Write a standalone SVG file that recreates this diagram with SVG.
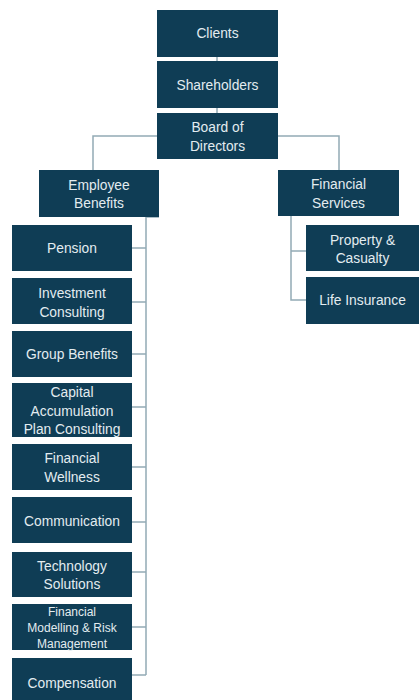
<svg xmlns="http://www.w3.org/2000/svg" width="419" height="700" viewBox="0 0 419 700">
<style>
.n rect{fill:#0f3d55}
.n text{fill:#e3ecf0;font-family:"Liberation Sans",Arial,sans-serif;font-size:13.8px;text-anchor:middle}
.n text.s{font-size:12px}
#connectors path{fill:none;stroke:#93aab5;stroke-width:1.5}
</style>
<rect width="419" height="700" fill="#ffffff"/>
<g id="connectors">
<path d="M217,57V61M217,108V113"/>
<path d="M157,136H93V170M278,136H339V170"/>
<path d="M159,217H146V675M132,248H146M132,302H146M132,354H146M132,407H146M132,467H146M132,522H146M132,572H146M132,627H146M132,675H146"/>
<path d="M291,216V300H306M291,251H306"/>
</g>
<g id="clients" class="n"><rect x="157" y="10" width="121" height="47"/><text x="217.5" y="38">Clients</text></g>
<g id="shareholders" class="n"><rect x="157" y="61" width="121" height="47"/><text x="217.5" y="90">Shareholders</text></g>
<g id="board" class="n"><rect x="157" y="113" width="121" height="46"/><text x="217.5" y="132">Board of</text><text x="217.5" y="151">Directors</text></g>
<g id="employee-benefits" class="n"><rect x="39" y="170" width="120" height="47"/><text x="99" y="190">Employee</text><text x="99" y="208">Benefits</text></g>
<g id="financial-services" class="n"><rect x="278" y="170" width="121" height="46"/><text x="338.5" y="189">Financial</text><text x="338.5" y="208">Services</text></g>
<g id="property-casualty" class="n"><rect x="306" y="225" width="113" height="46"/><text x="362.5" y="245">Property &amp;</text><text x="362.5" y="263">Casualty</text></g>
<g id="life-insurance" class="n"><rect x="306" y="277" width="113" height="47"/><text x="362.5" y="305">Life Insurance</text></g>
<g id="pension" class="n"><rect x="12" y="225" width="120" height="46"/><text x="72" y="253">Pension</text></g>
<g id="investment-consulting" class="n"><rect x="12" y="278" width="120" height="46"/><text x="72" y="298">Investment</text><text x="72" y="317">Consulting</text></g>
<g id="group-benefits" class="n"><rect x="12" y="331" width="120" height="46"/><text x="72" y="359">Group Benefits</text></g>
<g id="capital-accumulation" class="n"><rect x="12" y="383" width="120" height="54"/><text x="72" y="397">Capital</text><text x="72" y="416">Accumulation</text><text x="72" y="434">Plan Consulting</text></g>
<g id="financial-wellness" class="n"><rect x="12" y="444" width="120" height="46"/><text x="72" y="463">Financial</text><text x="72" y="482">Wellness</text></g>
<g id="communication" class="n"><rect x="12" y="497" width="120" height="46"/><text x="72" y="526">Communication</text></g>
<g id="technology-solutions" class="n"><rect x="12" y="552" width="120" height="45"/><text x="72" y="571">Technology</text><text x="72" y="589">Solutions</text></g>
<g id="financial-modelling" class="n"><rect x="12" y="604" width="120" height="46"/><text class="s" x="72" y="616">Financial</text><text class="s" x="72" y="632">Modelling &amp; Risk</text><text class="s" x="72" y="648">Management</text></g>
<g id="compensation" class="n"><rect x="12" y="658" width="120" height="42"/><text x="72" y="688">Compensation</text></g>
</svg>
